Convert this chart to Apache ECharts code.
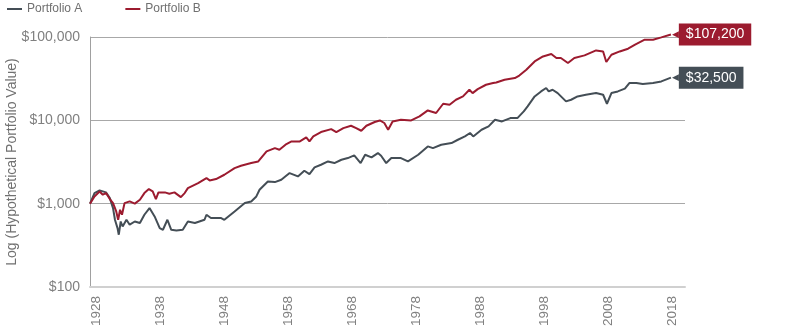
<!DOCTYPE html>
<html>
<head>
<meta charset="utf-8">
<script src="https://cdn.jsdelivr.net/npm/echarts@6/dist/echarts.min.js"></script>
<style>
  html, body { margin: 0; padding: 0; background: #fff; }
  #chart { width: 800px; height: 330px; }
</style>
</head>
<body>
<div id="chart"></div>
<script>
// Growth of a hypothetical $1,000 investment, by year (fractional years)
const yearsA = [1927.0, 1927.7, 1928.5, 1929.5, 1930.1, 1930.6, 1930.9, 1931.3, 1931.5, 1931.8,
  1932.1, 1932.7, 1933.2, 1934.0, 1934.8, 1935.5, 1936.3, 1936.6, 1937.1, 1937.9,
  1938.4, 1939.1, 1939.7, 1940.5, 1941.5, 1942.3, 1943.4, 1944.9, 1945.2, 1945.9,
  1947.5, 1948.0, 1949.6, 1951.2, 1952.2, 1953.0, 1953.5, 1954.8,
  1955.1, 1955.9, 1956.9, 1958.2, 1959.5, 1960.5, 1961.3, 1962.1, 1963.1, 1964.2,
  1965.2, 1966.3, 1967.3, 1968.3, 1969.3, 1970.0, 1971.0, 1972.0, 1972.5, 1973.3,
  1974.1, 1975.6, 1976.7, 1978.3, 1979.8, 1980.6, 1981.9, 1983.5, 1984.5, 1985.6,
  1986.4, 1986.9, 1988.2, 1989.3, 1990.3, 1991.4, 1992.7, 1993.8, 1994.8, 1995.4,
  1996.5, 1997.5, 1998.3, 1998.7, 1999.3, 2000.1, 2001.4, 2002.2, 2003.2, 2004.5,
  2006.1, 2007.2, 2007.8, 2008.5, 2009.5, 2010.6, 2011.3, 2012.4, 2013.4, 2015.0,
  2016.3, 2017.8];
const valuesA = [1000, 1340, 1442, 1365, 1167, 885, 641, 509, 424, 611,
  532, 641, 559, 611, 585, 736, 885, 927, 702, 509,
  486, 641, 486, 477, 486, 611, 585, 641, 736, 672,
  672, 641, 806, 1016, 1064, 1222, 1469, 1849,
  1937, 1815, 1937, 2328, 2124, 2483, 2266, 2723, 2931, 3214,
  3069, 3365, 3524, 3793, 3069, 3864, 3590, 4045, 3758, 3069,
  3524, 3524, 3214, 3864, 4864, 4645, 5093, 5333, 5848, 6412,
  7047, 6412, 7710, 8456, 10160, 9700, 10640, 10640, 12790, 14690,
  19360, 22230, 24440, 22230, 23280, 21230, 16870, 17660, 19360, 20280,
  21230, 20280, 15810, 21230, 22230, 23990, 28000, 28000, 27230, 28000,
  29300, 32500];

const yearsB = [1927.0, 1927.7, 1928.5, 1929.0, 1929.5, 1930.1, 1930.6, 1931.1, 1931.4, 1931.7,
  1932.0, 1932.4, 1933.2, 1934.0, 1934.8, 1935.5, 1936.2, 1936.8, 1937.3, 1937.7,
  1938.7, 1939.4, 1940.2, 1941.2, 1941.8, 1942.3, 1943.9, 1945.2, 1945.7, 1946.7,
  1948.0, 1949.6, 1950.6, 1952.2, 1953.3, 1954.6,
  1955.9, 1956.6, 1957.7, 1958.5, 1959.8, 1960.8,
  1961.3, 1961.9, 1963.1, 1964.7, 1965.5, 1966.6, 1967.8, 1968.6, 1969.4, 1970.2,
  1971.5, 1972.3, 1973.0, 1973.6, 1974.3, 1975.6, 1977.2, 1978.5, 1979.8, 1981.1,
  1982.2, 1983.2, 1984.2, 1985.3, 1986.3, 1986.8, 1987.6, 1988.9, 1990.0, 1990.5,
  1991.8, 1993.4, 1994.1, 1995.2, 1996.5, 1997.8, 1999.1, 1999.9, 2000.6, 2001.7,
  2002.7, 2004.3, 2006.1, 2007.2, 2007.7, 2008.5, 2009.8, 2011.1, 2012.2, 2013.7,
  2015.0, 2016.3, 2017.8];
const valuesB = [1000, 1222, 1400, 1280, 1340, 1135, 1016, 806, 641, 845,
  736, 1016, 1064, 1000, 1114, 1340, 1496, 1404, 1135, 1365,
  1365, 1316, 1365, 1199, 1340, 1538, 1766, 2029, 1901, 1973,
  2223, 2673, 2851, 3069, 3214, 4236,
  4645, 4436, 5188, 5585, 5585, 6237,
  5585, 6412, 7230, 7852, 7230, 8072, 8610, 8072, 7499, 8610,
  9550, 9970, 9290, 7710, 9700, 10160, 9970, 11140, 13150, 12240,
  15810, 15380, 17660, 19360, 23280, 21230, 23700, 26730, 28000, 28500,
  30690, 32140, 34500, 40450, 50900, 58470, 62500, 55970, 55970, 48750,
  55970, 60140, 69050, 67100, 50100, 61240, 67100, 72400, 80900, 92900,
  92900, 98900, 107200];

const seriesNames = ['Portfolio A', 'Portfolio B'];
const seriesColors = ['#444e56', '#9c1b2f'];
const xTickYears = [1928, 1938, 1948, 1958, 1968, 1978, 1988, 1998, 2008, 2018];
const yTicks = [100, 1000, 10000, 100000];

const FONT = '"Liberation Sans", Arial, sans-serif';
const fmtMoney = v => '$' + Math.round(v).toLocaleString('en-US');

function buildSeries(idx, years, values) {
  const color = seriesColors[idx];
  return {
    name: seriesNames[idx],
    type: 'line',
    data: years.map((y, i) => [y, values[i]]),
    showSymbol: false,
    symbol: 'none',
    clip: false,
    lineStyle: { color: color, width: 2 },
    itemStyle: { color: color },
    z: idx === 1 ? 3 : 2,
    // value tag at the end of each line: small pointer + filled box
    endLabel: {
      show: true,
      distance: 1,
      formatter: p => '{arrow|\u25C0}{box|' + fmtMoney(p.value[1]) + '}',
      rich: {
        arrow: {
          color: color,
          fontFamily: '"DejaVu Sans", sans-serif',
          fontSize: 9,
          lineHeight: 24
        },
        box: {
          color: '#fff',
          backgroundColor: color,
          fontFamily: FONT,
          fontSize: 14,
          lineHeight: 16,
          padding: [4, 7, 4, 7]
        }
      }
    }
  };
}

const chart = echarts.init(document.getElementById('chart'), null, { renderer: 'canvas' });
chart.setOption({
  animation: false,
  backgroundColor: '#fff',
  legend: {
    data: seriesNames,
    left: 2,
    top: -2,
    icon: 'rect',
    itemWidth: 15,
    itemHeight: 2,
    itemGap: 43,
    textStyle: { color: '#707070', fontFamily: FONT, fontSize: 12 }
  },
  grid: { left: 90, right: 115, top: 37, bottom: 43, containLabel: false, outerBoundsMode: 'none' },
  xAxis: {
    type: 'value',
    min: 1927,
    max: 2020,
    axisLine: { show: true, lineStyle: { color: '#d0d0d0', width: 2 } },
    axisTick: { show: false },
    splitLine: { show: false },
    axisLabel: {
      customValues: xTickYears,
      rotate: 90,
      margin: 9,
      color: '#808080',
      fontFamily: FONT,
      fontSize: 13.5,
      formatter: v => String(v)
    }
  },
  yAxis: {
    type: 'log',
    logBase: 10,
    min: yTicks[0],
    max: yTicks[yTicks.length - 1],
    name: 'Log (Hypothetical Portfolio Value)',
    nameLocation: 'middle',
    nameGap: 71,
    nameMoveOverlap: false,
    nameTextStyle: { color: '#707070', fontFamily: FONT, fontSize: 14 },
    axisLine: { show: true, lineStyle: { color: '#a0a0a0', width: 1 } },
    axisTick: { show: false },
    splitLine: { show: true, lineStyle: { color: ['#d0d0d0', '#a8a8a8', '#a8a8a8', '#a8a8a8'], width: 1 } },
    axisLabel: {
      margin: 10,
      color: '#808080',
      fontFamily: FONT,
      fontSize: 14,
      formatter: v => fmtMoney(v)
    }
  },
  series: [
    buildSeries(0, yearsA, valuesA),
    buildSeries(1, yearsB, valuesB)
  ]
});
</script>
</body>
</html>
